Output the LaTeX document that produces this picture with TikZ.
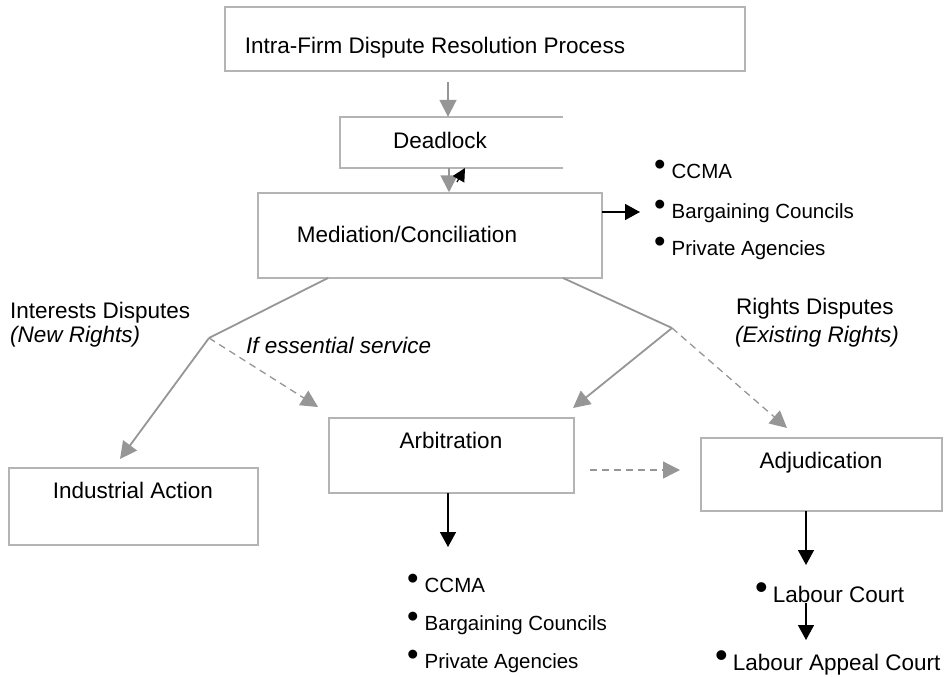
\documentclass[tikz,border=0pt]{standalone}
\usepackage{fontspec}
\setmainfont{Liberation Sans}
\usetikzlibrary{arrows.meta}
\definecolor{agray}{RGB}{150,150,150}
\definecolor{bgray}{RGB}{180,180,180}
\newcommand{\bigtxt}{\fontsize{22.5}{27}\selectfont}
\newcommand{\smtxt}{\fontsize{20.5}{24}\selectfont}
\newcommand{\bdot}{\raisebox{3pt}{\scalebox{1.6}{\textbullet}}}
\newcommand{\bul}{\bdot\hspace{6pt}}
\begin{document}
\begin{tikzpicture}[x=1pt,y=-1pt,
  box/.style={draw=bgray, line width=1.5pt, inner sep=0pt},
  frame/.style={inner sep=0pt},
  lbl/.style={anchor=base, inner sep=0pt, font=\bigtxt},
  llbl/.style={anchor=base west, inner sep=0pt, font=\bigtxt},
  blbl/.style={anchor=base west, inner sep=0pt, font=\smtxt},
  gline/.style={draw=agray, line width=1.8pt},
  garrow/.style={gline, -{Triangle[length=17pt,width=17pt]}},
  gdash/.style={draw=agray, line width=1.3pt, dash pattern=on 7pt off 5pt, -{Triangle[length=17pt,width=17pt]}},
  karrow/.style={draw=black, line width=1.5pt, -{Triangle[length=15pt,width=16pt]}},
  ksmall/.style={draw=black, line width=1.2pt, -{Triangle[length=13pt,width=13pt]}}]
\useasboundingbox (0,0) rectangle (945,677);
% boxes
\node[box, minimum width=520pt, minimum height=64pt] (top) at (485,39) {};
\node[frame, minimum width=223pt, minimum height=51pt] (dead) at (451.5,142.5) {};
\draw[bgray, line width=1.5pt] (dead.north east) -- (dead.north west) -- (dead.south west) -- (dead.south east);
\node[box, minimum width=344pt, minimum height=85pt] (med) at (430,235.5) {};
\node[box, minimum width=249pt, minimum height=77pt] (ind) at (133.5,506.5) {};
\node[box, minimum width=245pt, minimum height=75pt] (arb) at (451.5,455.5) {};
\node[box, minimum width=241pt, minimum height=73pt] (adj) at (821.5,474.5) {};
% box texts
\node[lbl] (ttop) at (435,54) {Intra-Firm Dispute Resolution Process};
\node[lbl] (tdead) at (440,148) {Deadlock};
\node[lbl] (tmed) at (407,242) {Mediation/Conciliation};
\node[lbl] (tind) at (133,498) {Industrial Action};
\node[lbl] (tarb) at (451,448) {Arbitration};
\node[lbl] (tadj) at (821,468) {Adjudication};
% free labels
\node[llbl] (int1) at (10,318) {Interests Disputes};
\node[llbl] (int2) at (10,342) {\itshape (New Rights)};
\node[llbl] (ess) at (246,353) {\itshape If essential service};
\node[llbl] (rig1) at (736,314) {Rights Disputes};
\node[llbl] (rig2) at (735,342) {\itshape (Existing Rights)};
% lists
\node[blbl] (m1) at (654,178) {\bul CCMA};
\node[blbl] (m2) at (654,218) {\bul Bargaining Councils};
\node[blbl] (m3) at (654,255) {\bul Private Agencies};
\node[blbl] (a1) at (407,592) {\bul CCMA};
\node[blbl] (a2) at (407,630) {\bul Bargaining Councils};
\node[blbl] (a3) at (407,668) {\bul Private Agencies};
\node[llbl] (lc) at (755,602) {\bdot\hspace{5pt}Labour Court};
\node[llbl] (lac) at (715,670) {\bdot\hspace{5pt}Labour Appeal Court};
% coordinates
\coordinate (c1) at (448,82);
\coordinate (c2) at (449,168);
\coordinate (c3) at (457,182);
\coordinate (c4) at (465,168);
\coordinate (c5) at (602,212);
\coordinate (c6) at (640,212);
\coordinate (mL) at (328,278);
\coordinate (mR) at (563,278);
\coordinate (jl) at (209,338);
\coordinate (jr) at (672,328);
\coordinate (tInd) at (120,459);
\coordinate (tArbL) at (318,407);
\coordinate (tArbR) at (573,408);
\coordinate (tAdj) at (787,428);
\coordinate (d1) at (590,470);
\coordinate (d2) at (680,470);
\coordinate (b1) at (448,493);
\coordinate (b2) at (448,547);
\coordinate (e1) at (806,511);
\coordinate (e2) at (806,565);
\coordinate (f1) at (806,603);
\coordinate (f2) at (806,640);
% connectors
\draw[garrow] (c1) -- (c1 |- dead.north);
\draw[garrow] (c2) -- (c2 |- med.north);
\draw[ksmall] (c3) -- (c4);
\draw[karrow] (c5) -- (c6);
\draw[gline] (mL) -- (jl);
\draw[garrow] (jl) -- (tInd);
\draw[gdash] (jl) -- (tArbL);
\draw[gline] (mR) -- (jr);
\draw[garrow] (jr) -- (tArbR);
\draw[gdash] (jr) -- (tAdj);
\draw[gdash] (d1) -- (d2);
\draw[karrow] (b1) -- (b2);
\draw[karrow] (e1) -- (e2);
\draw[karrow] (f1) -- (f2);
\end{tikzpicture}
\end{document}
